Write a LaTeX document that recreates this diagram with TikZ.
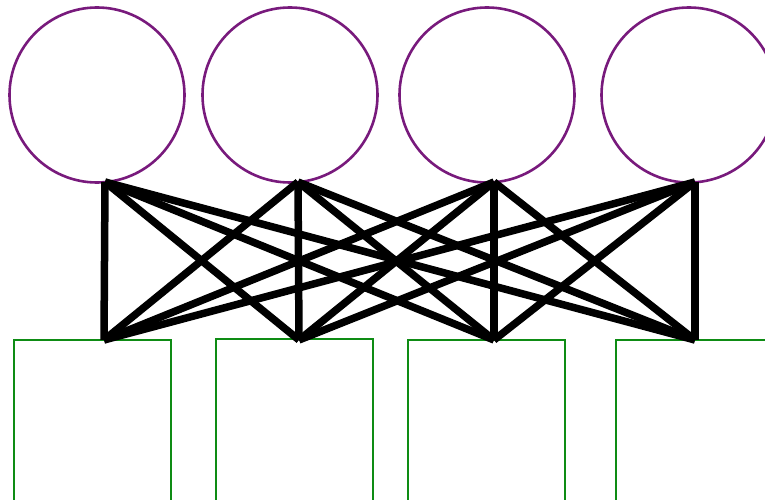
\documentclass[tikz,border=0pt]{standalone}
\definecolor{cpurple}{RGB}{120,26,124}
\definecolor{cgreen}{RGB}{14,140,20}
\begin{document}
\begin{tikzpicture}[x=1pt,y=-1pt,
  topcirc/.style={draw=cpurple,line width=2.6pt,circle,minimum size=175pt,inner sep=0pt},
  botsq/.style={draw=cgreen,line width=2.6pt,rectangle,minimum width=157pt,minimum height=162pt,inner sep=0pt},
  link/.style={line width=7.5pt,line cap=butt,black}]
\useasboundingbox (0,0) rectangle (765,500);
\clip (0,0) rectangle (765,500);
\node[topcirc] (c1) at (97,95) {};
\node[topcirc] (c2) at (290,95) {};
\node[topcirc] (c3) at (487,95) {};
\node[topcirc] (c4) at (689,95) {};
\node[botsq] (s1) at (92.5,421) {};
\node[botsq] (s2) at (294.5,420) {};
\node[botsq] (s3) at (486.5,421) {};
\node[botsq] (s4) at (694.5,421) {};
\coordinate (t1) at (105,182);
\coordinate (t2) at (298,182);
\coordinate (t3) at (494,182);
\coordinate (t4) at (695,182);
\coordinate (b1) at (104,340);
\coordinate (b2) at (299,340);
\coordinate (b3) at (494,340);
\coordinate (b4) at (695,340);
\foreach \i in {1,2,3,4}{
  \foreach \j in {1,2,3,4}{
    \draw[link] (t\i) -- (b\j);
  }
}
\end{tikzpicture}
\end{document}
